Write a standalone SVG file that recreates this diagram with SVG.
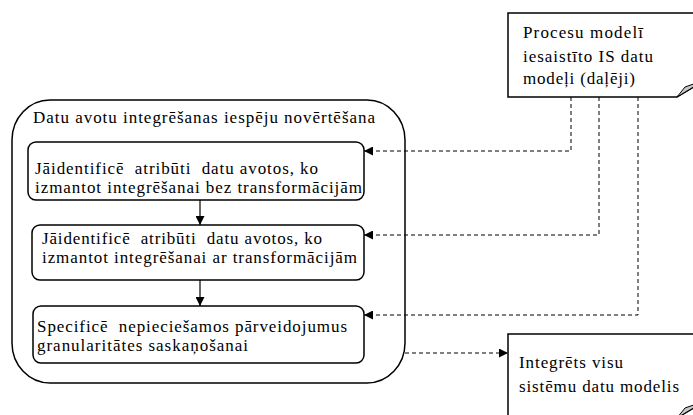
<svg xmlns="http://www.w3.org/2000/svg" width="693" height="415" viewBox="0 0 693 415">
  <style>
    .box { fill: #ffffff; stroke: #000000; stroke-width: 1.5; }
    .fold { fill: #c8c8c8; stroke: #000000; stroke-width: 1; }
    .lbl { font-family: "Liberation Serif", "Times New Roman", serif; font-size: 17px; fill: #000000; white-space: pre; }
    .dash { fill: none; stroke: #000000; stroke-width: 1; stroke-dasharray: 4 3; }
    .solid { fill: none; stroke: #000000; stroke-width: 1.2; }
  </style>
  <defs>
    <marker id="tri" viewBox="0 0 10 10" refX="10" refY="5" markerWidth="10" markerHeight="9" markerUnits="userSpaceOnUse" orient="auto">
      <path d="M0,0 L10,5 L0,10 Z" fill="#000000"/>
    </marker>
  </defs>

  <rect width="693" height="415" fill="#ffffff"/>

  <!-- container: assessment of data source integration -->
  <g id="integration-assessment">
    <rect class="box" x="12" y="100" width="393" height="283" rx="38" ry="40"/>
    <text class="lbl" x="33" y="123" textLength="342" lengthAdjust="spacing">Datu avotu integrēšanas iespēju novērtēšana</text>
  </g>

  <g id="step-no-transform">
    <rect class="box" x="28" y="142" width="336" height="58" rx="8"/>
    <text class="lbl" x="35" y="174" textLength="283" lengthAdjust="spacing">Jāidentificē  atribūti  datu avotos, ko</text>
    <text class="lbl" x="35" y="193" textLength="327" lengthAdjust="spacing">izmantot integrēšanai bez transformācijām</text>
  </g>

  <g id="step-transform">
    <rect class="box" x="32" y="225" width="332" height="55" rx="8"/>
    <text class="lbl" x="42" y="244" textLength="280" lengthAdjust="spacing">Jāidentificē  atribūti  datu avotos, ko</text>
    <text class="lbl" x="42" y="263" textLength="315" lengthAdjust="spacing">izmantot integrēšanai ar transformācijām</text>
  </g>

  <g id="step-granularity">
    <rect class="box" x="33" y="306" width="331" height="57" rx="8"/>
    <text class="lbl" x="37" y="332" textLength="310" lengthAdjust="spacing">Specificē  nepieciešamos pārveidojumus</text>
    <text class="lbl" x="37" y="351" textLength="211" lengthAdjust="spacing">granularitātes saskaņošanai</text>
  </g>

  <!-- document: process-model IS data models -->
  <g id="process-models-doc">
    <path class="box" d="M508,13 L705,13 L705,80 L677,97 L508,97 Z"/>
    <path class="fold" d="M677,97 L685,87 L705,80 Z"/>
    <text class="lbl" x="523" y="38" textLength="120" lengthAdjust="spacing">Procesu modelī</text>
    <text class="lbl" x="523" y="62" textLength="130" lengthAdjust="spacing">iesaistīto IS datu</text>
    <text class="lbl" x="523" y="84" textLength="112" lengthAdjust="spacing">modeļi (daļēji)</text>
  </g>

  <!-- document: integrated data model -->
  <g id="integrated-model-doc">
    <path class="box" d="M508,334 L705,334 L705,401 L677,418 L508,418 Z"/>
    <path class="fold" d="M677,418 L685,408 L705,401 Z"/>
    <text class="lbl" x="519" y="368" textLength="104" lengthAdjust="spacing">Integrēts visu</text>
    <text class="lbl" x="519" y="392" textLength="160" lengthAdjust="spacing">sistēmu datu modelis</text>
  </g>

  <g id="connectors">
    <line class="solid" x1="200" y1="200" x2="200" y2="225" marker-end="url(#tri)"/>
    <line class="solid" x1="200" y1="280" x2="200" y2="306" marker-end="url(#tri)"/>
    <polyline class="dash" points="571,97 571,151 364,151" marker-end="url(#tri)"/>
    <polyline class="dash" points="599,97 599,235 364,235" marker-end="url(#tri)"/>
    <polyline class="dash" points="638,97 638,315 364,315" marker-end="url(#tri)"/>
    <line class="dash" x1="405" y1="353" x2="508" y2="353" marker-end="url(#tri)"/>
  </g>
</svg>
